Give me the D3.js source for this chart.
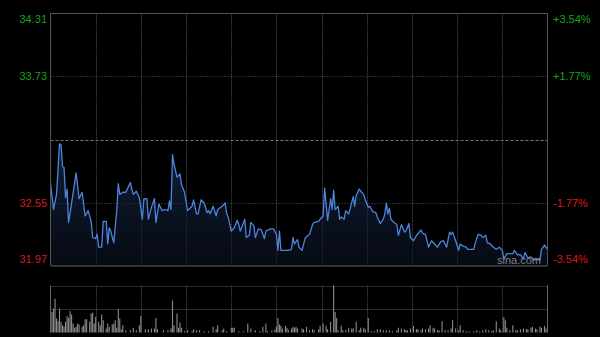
<!DOCTYPE html>
<html>
<head>
<meta charset="utf-8">
<script src="https://cdn.jsdelivr.net/npm/d3@7"></script>
<style>
    body { margin: 0; background: #000; }
    #chart { width: 600px; height: 337px; }
    text { font-family: Arial, "Liberation Sans", sans-serif; }
</style>
</head>
<body>
<div id="chart"></div>
<script>

// price axis ticks (left) and percent ticks (right)
let priceTicks = [34.31, 33.73, 32.55, 31.97];
let pctTicks = ["+3.54%", "+1.77%", "-1.77%", "-3.54%"];
let prevClose = 33.14;

// [minute since open, price]
let priceSeries = [
    [0,32.74],[2,32.49],[4,32.63],[6,33.10],[7,33.09],[8,32.89],[9,32.88],[10,32.60],[11,32.68],[12,32.37],
    [14,32.55],[17,32.83],[19,32.59],[21,32.65],[22,32.54],[23,32.43],[25,32.48],[27,32.38],[28,32.23],[30,32.22],
    [31,32.26],[32,32.14],[34,32.14],[35,32.38],[37,32.38],[38,32.17],[39,32.32],[40,32.29],[42,32.18],[44,32.48],
    [45,32.73],[46,32.63],[48,32.65],[50,32.65],[53,32.74],[54,32.68],[55,32.63],[57,32.66],[59,32.60],[61,32.40],
    [62,32.59],[64,32.59],[65,32.40],[67,32.51],[69,32.59],[70,32.37],[72,32.54],[74,32.48],[76,32.49],[78,32.48],
    [79,32.57],[80,32.49],[81,33.00],[82,32.91],[84,32.79],[86,32.82],[87,32.72],[89,32.65],[91,32.48],[94,32.52],
    [95,32.58],[97,32.45],[98,32.45],[100,32.58],[102,32.55],[104,32.46],[105,32.48],[106,32.45],[108,32.52],[110,32.43],
    [111,32.49],[114,32.52],[116,32.55],[117,32.45],[118,32.42],[120,32.29],[122,32.32],[124,32.39],[125,32.35],[126,32.29],
    [129,32.40],[130,32.23],[132,32.25],[133,32.37],[135,32.34],[136,32.23],[138,32.31],[140,32.30],[142,32.22],[143,32.29],
    [146,32.31],[148,32.31],[150,32.26],[151,32.11],[152,32.29],[153,32.11],[156,32.11],[158,32.11],[160,32.12],[161,32.23],
    [162,32.17],[164,32.21],[165,32.14],[167,32.11],[169,32.22],[170,32.24],[172,32.26],[174,32.35],[175,32.37],[178,32.38],
    [179,32.40],[181,32.43],[182,32.69],[183,32.54],[184,32.39],[186,32.59],[187,32.49],[188,32.67],[189,32.49],[191,32.52],
    [192,32.40],[193,32.42],[195,32.40],[196,32.48],[198,32.45],[199,32.50],[201,32.61],[202,32.52],[203,32.62],[205,32.68],
    [206,32.66],[208,32.63],[209,32.58],[211,32.51],[212,32.52],[214,32.47],[216,32.46],[217,32.42],[219,32.36],[221,32.40],
    [222,32.45],[223,32.55],[224,32.45],[225,32.50],[226,32.40],[228,32.37],[230,32.35],[231,32.25],[233,32.35],[235,32.28],
    [236,32.29],[238,32.36],[239,32.23],[241,32.20],[243,32.25],[246,32.30],[247,32.27],[249,32.26],[251,32.14],[253,32.20],
    [255,32.17],[257,32.14],[259,32.19],[261,32.20],[263,32.14],[265,32.28],[266,32.26],[267,32.28],[269,32.20],[271,32.11],
    [272,32.17],[274,32.15],[276,32.14],[277,32.12],[281,32.12],[282,32.18],[284,32.26],[286,32.25],[287,32.23],[289,32.25],
    [290,32.18],[292,32.17],[294,32.14],[296,32.12],[298,32.14],[300,32.11],[301,32.03],[303,32.08],[305,32.08],[307,32.08],
    [308,32.11],[310,32.07],[312,32.07],[314,32.03],[315,32.09],[317,32.04],[319,32.05],[321,32.02],[323,32.03],[325,32.02],
    [326,32.12],[328,32.16],[330,32.12]
];

// [minute since open, volume]
let volumeSeries = [
    [0,267],[1,207],[2,240],[3,340],[4,140],[5,113],[6,240],[7,107],[8,73],[9,57],[10,107],[11,167],[12,147],[13,213],
    [14,180],[15,90],[16,47],[17,57],[18,90],[19,80],[21,57],[22,73],[23,133],[24,133],[26,107],[27,190],[28,200],[29,90],
    [30,157],[32,107],[33,73],[34,180],[35,123],[37,40],[38,90],[39,57],[41,80],[42,90],[43,123],[44,47],[45,240],[46,140],
    [47,33],[48,73],[50,23],[53,23],[55,47],[57,23],[59,73],[60,167],[63,33],[65,33],[67,40],[69,40],[70,147],[71,33],
    [75,23],[78,23],[80,40],[81,323],[82,73],[84,190],[85,47],[86,100],[87,47],[89,13],[91,23],[94,13],[95,33],[97,23],
    [99,23],[102,13],[105,13],[108,57],[110,33],[111,73],[114,23],[115,40],[117,13],[120,47],[121,47],[122,47],[125,13],
    [128,13],[131,90],[133,40],[136,23],[139,13],[141,57],[143,90],[144,13],[147,23],[149,33],[150,57],[151,147],[152,80],
    [153,67],[154,40],[156,67],[157,47],[158,23],[160,40],[161,57],[162,47],[163,57],[164,40],[167,40],[168,33],[170,57],
    [172,23],[174,33],[175,23],[178,33],[179,67],[181,90],[183,67],[184,33],[186,107],[188,473],[189,207],[190,147],[191,23],
    [193,67],[194,23],[196,23],[198,47],[200,40],[201,40],[203,107],[205,23],[206,47],[208,47],[209,33],[211,147],[213,13],
    [215,13],[217,33],[219,33],[221,23],[223,23],[225,23],[227,13],[230,23],[231,47],[233,40],[235,33],[236,23],[237,23],
    [239,40],[241,67],[243,33],[244,33],[246,23],[247,40],[249,33],[251,40],[252,73],[254,47],[255,40],[257,23],[258,23],
    [260,113],[262,23],[264,23],[266,40],[267,123],[269,40],[271,23],[272,73],[274,23],[276,13],[278,13],[281,13],[283,23],
    [285,13],[287,23],[289,33],[291,23],[293,13],[294,23],[296,113],[298,40],[299,23],[301,157],[302,123],[303,47],[305,23],
    [307,73],[309,23],[310,23],[312,33],[314,40],[316,33],[317,33],[319,47],[320,57],[322,40],[323,33],[325,57],[326,47],
    [328,67],[329,40],[330,67]
];

let sessionMinutes = 330;
let gridMinutes = d3.range(30, sessionMinutes, 30);

class IntradayVis {

    constructor(parentElement) {
        this.parentElement = parentElement;
        this.initVis();
    }

    initVis() {
        let vis = this;

        vis.width = 600;
        vis.height = 337;
        vis.left = 50.5;
        vis.right = 547.5;
        vis.priceTop = 13.5;
        vis.priceBottom = 265.5;
        vis.volTop = 285.5;
        vis.volBottom = 332.5;

        vis.svg = d3.select("#" + vis.parentElement).append("svg")
            .attr("width", vis.width)
            .attr("height", vis.height)
            .style("background", "#000");

        vis.x = d3.scaleLinear()
            .domain([0, sessionMinutes])
            .range([vis.left, vis.right]);

        vis.y = d3.scaleLinear()
            .domain([priceTicks[3], priceTicks[0]])
            .range([vis.priceBottom, vis.priceTop]);

        vis.yVol = d3.scaleLinear()
            .domain([0, d3.max(volumeSeries, d => d[1])])
            .range([vis.volBottom, vis.volTop]);

        // gradient under the price line
        let grad = vis.svg.append("defs").append("linearGradient")
            .attr("id", "areaGrad")
            .attr("x1", 0).attr("y1", 0).attr("x2", 0).attr("y2", 1);
        grad.append("stop").attr("offset", "0%").attr("stop-color", "#16294a").attr("stop-opacity", 0.75);
        grad.append("stop").attr("offset", "100%").attr("stop-color", "#0b1220").attr("stop-opacity", 0.6);

        vis.wrangleData();
    }

    wrangleData() {
        let vis = this;
        vis.updateVis();
    }

    updateVis() {
        let vis = this;

        // vertical grid, both panels
        [[vis.priceTop, vis.priceBottom], [vis.volTop, vis.volBottom]].forEach(function (p) {
            vis.svg.append("g")
                .selectAll("line")
                .data(gridMinutes)
                .enter().append("line")
                .attr("x1", d => Math.round(vis.x(d)) + 0.5)
                .attr("x2", d => Math.round(vis.x(d)) + 0.5)
                .attr("y1", p[0])
                .attr("y2", p[1])
                .attr("stroke", "#3c3c3c")
                .attr("stroke-dasharray", "2,1");
        });

        // horizontal price grid
        vis.svg.append("g")
            .selectAll("line")
            .data([priceTicks[1], priceTicks[2]])
            .enter().append("line")
            .attr("x1", vis.left)
            .attr("x2", vis.right)
            .attr("y1", d => Math.round(vis.y(d)) + 0.5)
            .attr("y2", d => Math.round(vis.y(d)) + 0.5)
            .attr("stroke", "#555")
            .attr("stroke-dasharray", "1,2");

        // previous close
        vis.svg.append("line")
            .attr("x1", vis.left)
            .attr("x2", vis.right)
            .attr("y1", Math.round(vis.y(prevClose)) + 0.5)
            .attr("y2", Math.round(vis.y(prevClose)) + 0.5)
            .attr("stroke", "#777")
            .attr("stroke-dasharray", "3,2");

        // area + line
        let area = d3.area()
            .x(d => vis.x(d[0]))
            .y0(vis.priceBottom)
            .y1(d => vis.y(d[1]));

        let line = d3.line()
            .x(d => vis.x(d[0]))
            .y(d => vis.y(d[1]));

        vis.svg.append("path")
            .datum(priceSeries)
            .attr("d", area)
            .attr("fill", "url(#areaGrad)");

        vis.svg.append("path")
            .datum(priceSeries)
            .attr("d", line)
            .attr("fill", "none")
            .attr("stroke", "#4d84dc")
            .attr("stroke-width", 1.3)
            .attr("stroke-linejoin", "round");

        // watermark
        vis.svg.append("text")
            .attr("x", 519)
            .attr("y", 264)
            .attr("text-anchor", "middle")
            .attr("font-size", "11px")
            .attr("fill", "#9a9a9a")
            .attr("fill-opacity", 0.85)
            .text("sina.com");

        // price panel frame
        vis.svg.append("path")
            .attr("d", `M${vis.left},${vis.priceBottom}V${vis.priceTop}H${vis.right}V${vis.priceBottom}`)
            .attr("fill", "none")
            .attr("stroke", "#555");
        vis.svg.append("line")
            .attr("x1", vis.left).attr("x2", vis.right)
            .attr("y1", vis.priceBottom + 0.5).attr("y2", vis.priceBottom + 0.5)
            .attr("stroke", "#666");

        // labels
        let pos = priceTicks.map(function (d, i) {
            let y = vis.y(d);
            if (i === 0) y += 6;
            if (i === priceTicks.length - 1) y -= 6;
            return y;
        });
        let col = (d, i) => i < 2 ? "#17a317" : "#d41b1b";

        vis.svg.append("g")
            .selectAll("text")
            .data(priceTicks)
            .enter().append("text")
            .attr("x", 47)
            .attr("y", (d, i) => pos[i])
            .attr("dy", "0.35em")
            .attr("text-anchor", "end")
            .attr("font-size", "11px")
            .attr("fill", col)
            .text(d => d.toFixed(2));

        vis.svg.append("g")
            .selectAll("text")
            .data(pctTicks)
            .enter().append("text")
            .attr("x", 553)
            .attr("y", (d, i) => pos[i])
            .attr("dy", "0.35em")
            .attr("font-size", "11px")
            .attr("fill", col)
            .text(d => d);

        // volume panel
        vis.svg.append("g")
            .selectAll("line")
            .data([vis.volTop, (vis.volTop + vis.volBottom) / 2])
            .enter().append("line")
            .attr("x1", vis.left)
            .attr("x2", vis.right)
            .attr("y1", d => Math.round(d) + 0.5)
            .attr("y2", d => Math.round(d) + 0.5)
            .attr("stroke", "#555")
            .attr("stroke-dasharray", "1,1");

        vis.svg.append("g")
            .selectAll("line")
            .data(volumeSeries)
            .enter().append("line")
            .attr("x1", d => vis.x(d[0]))
            .attr("x2", d => vis.x(d[0]))
            .attr("y1", vis.volBottom)
            .attr("y2", d => vis.yVol(d[1]))
            .attr("stroke", "#8c8c8c")
            .attr("stroke-width", 1.1);

        vis.svg.append("g")
            .selectAll("line")
            .data([vis.left, vis.right])
            .enter().append("line")
            .attr("x1", d => d).attr("x2", d => d)
            .attr("y1", vis.volTop).attr("y2", vis.volBottom)
            .attr("stroke", "#666");
    }
}

new IntradayVis("chart");
</script>
</body>
</html>
